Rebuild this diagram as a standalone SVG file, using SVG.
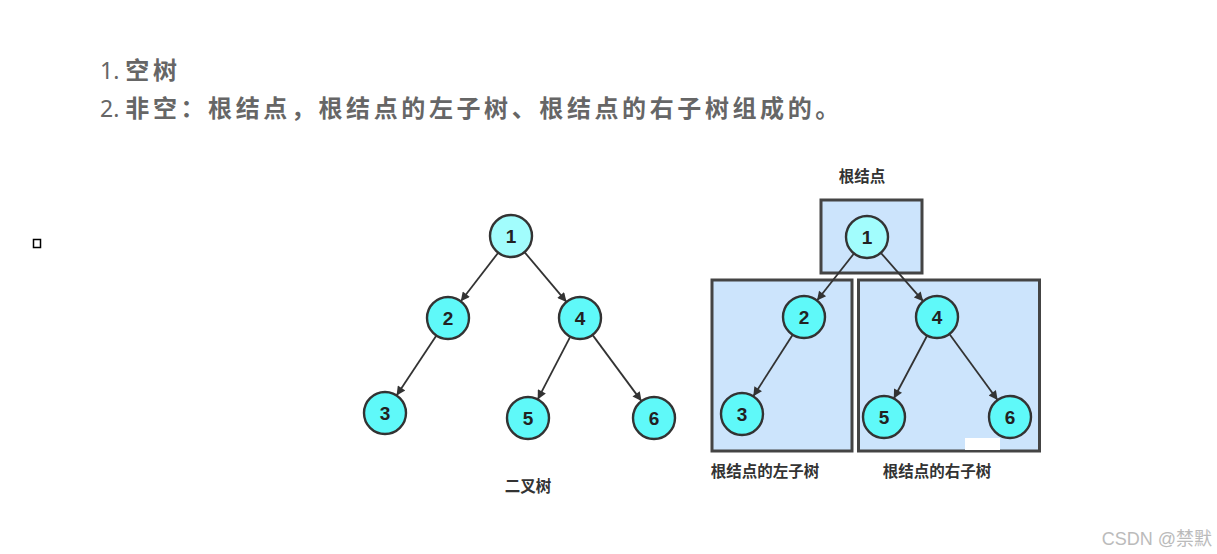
<svg xmlns="http://www.w3.org/2000/svg" width="1217" height="554" viewBox="0 0 1217 554">
<style>
.hd{font-family:"Noto Sans CJK SC","Noto Sans",sans-serif;font-size:24px;fill:#666;font-weight:bold;letter-spacing:3.6px}
.num{font-family:"Noto Sans","Liberation Sans",sans-serif;font-size:23px;fill:#666;font-weight:normal;letter-spacing:0}
.nd{fill:#5ff9f9;stroke:#333;stroke-width:2.4}
.root{fill:#a2fdfd}
.nt{font-family:"Liberation Sans",Arial,sans-serif;font-size:19px;font-weight:bold;fill:#222;text-anchor:middle}
.lb{font-family:"Noto Sans CJK SC",sans-serif;font-size:15.5px;font-weight:bold;fill:#333;text-anchor:middle}
.box{fill:#cce4fc;stroke:#444;stroke-width:3}
.ed{stroke:#333;stroke-width:1.8;fill:none;marker-end:url(#ah)}
</style>
<defs>
<marker id="ah" viewBox="0 0 10 10" refX="10" refY="5" markerWidth="11" markerHeight="9" markerUnits="userSpaceOnUse" orient="auto">
<path d="M0,0 L10,5 L0,10 z" fill="#333"/>
</marker>
</defs>
<rect width="1217" height="554" fill="#fff"/>
<g id="heading">
<text x="100" y="79" class="hd"><tspan class="num">1. </tspan>空树</text>
<text x="100" y="117" class="hd"><tspan class="num">2. </tspan>非空：根结点，根结点的左子树、根结点的右子树组成的。</text>
</g>
<rect id="marker-box" x="33.5" y="239.5" width="7" height="8" fill="none" stroke="#000" stroke-width="1.5"/>
<g id="boxes">
<rect id="box-root" class="box" x="821" y="200" width="101" height="73"/>
<rect id="box-left" class="box" x="712" y="280" width="140" height="171"/>
<rect id="box-right" class="box" x="858.5" y="280" width="181" height="171"/>
</g>
<g id="connectors">
<line class="ed" x1="498.2" y1="252.7" x2="460.8" y2="301.3"/>
<line class="ed" x1="524.5" y1="252.1" x2="566.5" y2="301.9"/>
<line class="ed" x1="436.4" y1="335.5" x2="396.6" y2="395.5"/>
<line class="ed" x1="570.3" y1="336.6" x2="537.7" y2="399.4"/>
<line class="ed" x1="592.5" y1="334.9" x2="641.5" y2="401.1"/>
<line class="ed" x1="854" y1="253.5" x2="817" y2="300.5"/>
<line class="ed" x1="880.8" y1="252.8" x2="923.2" y2="301.2"/>
<line class="ed" x1="792.7" y1="334.7" x2="753.3" y2="396.3"/>
<line class="ed" x1="927.2" y1="335.5" x2="893.8" y2="398.5"/>
<line class="ed" x1="949.4" y1="334" x2="997.6" y2="400"/>
</g>
<g id="L1"><circle class="nd root" cx="511" cy="236" r="21"/><text class="nt" x="511" y="243">1</text></g>
<g id="L2"><circle class="nd" cx="448" cy="318" r="21"/><text class="nt" x="448" y="325">2</text></g>
<g id="L4"><circle class="nd" cx="580" cy="318" r="21"/><text class="nt" x="580" y="325">4</text></g>
<g id="L3"><circle class="nd" cx="385" cy="413" r="21"/><text class="nt" x="385" y="420">3</text></g>
<g id="L5"><circle class="nd" cx="528" cy="418" r="21"/><text class="nt" x="528" y="425">5</text></g>
<g id="L6"><circle class="nd" cx="654" cy="418" r="21"/><text class="nt" x="654" y="425">6</text></g>
<g id="R1"><circle class="nd root" cx="867" cy="237" r="21"/><text class="nt" x="867" y="244">1</text></g>
<g id="R2"><circle class="nd" cx="804" cy="317" r="21"/><text class="nt" x="804" y="324">2</text></g>
<g id="R4"><circle class="nd" cx="937" cy="317" r="21"/><text class="nt" x="937" y="324">4</text></g>
<g id="R3"><circle class="nd" cx="742" cy="414" r="21"/><text class="nt" x="742" y="421">3</text></g>
<g id="R5"><circle class="nd" cx="884" cy="417" r="21"/><text class="nt" x="884" y="424">5</text></g>
<g id="R6"><circle class="nd" cx="1010" cy="417" r="21"/><text class="nt" x="1010" y="424">6</text></g>
<g id="labels">
<text class="lb" x="528" y="492">二叉树</text>
<text class="lb" x="862" y="182">根结点</text>
<text class="lb" x="765" y="477">根结点的左子树</text>
<text class="lb" x="937" y="477">根结点的右子树</text>
</g>
<rect x="965" y="438" width="35" height="12" fill="#fff"/>
<text x="1212" y="545" text-anchor="end" font-family="'Liberation Sans','Noto Sans CJK SC',sans-serif" font-size="18" fill="#bbb">CSDN @禁默</text>
</svg>
